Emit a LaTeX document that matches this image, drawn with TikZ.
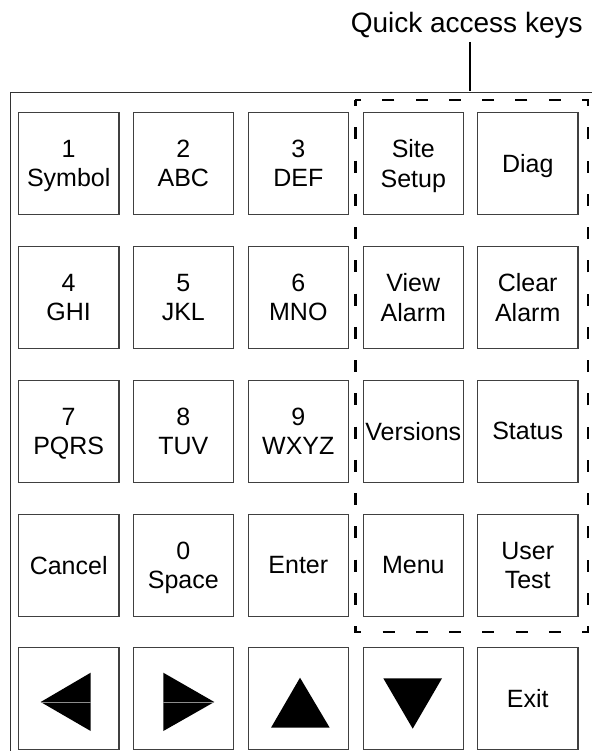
\documentclass[tikz,border=0pt]{standalone}
\usepackage{fontspec}
\setmainfont{Liberation Sans}

\begin{document}
\begin{tikzpicture}
  [x=1pt, y=-1pt,
   key/.style={rectangle, draw=black!75, line width=1.1pt, minimum width=100.5pt,
     minimum height=102pt, inner sep=0pt, align=center,
     font=\fontsize{25}{29.3}\selectfont, text depth=0pt},
   quickbox/.style={line width=2.5pt, dash pattern=on 12pt off 21.25pt, dash phase=6pt},
   arrowtri/.style={fill=black}]
  \useasboundingbox (0,0) rectangle (592,751);
  % panel frame, cut off at the right and bottom
  \draw[black!80, line width=1.4pt] (10.7,751) -- (10.7,92.5) -- (592,92.5);
  % Row 1
  \node[key] (k1)    at (68.7,163.3)  {1\\Symbol};
  \node[key] (k2)    at (183.3,163.3) {2\\ABC};
  \node[key] (k3)    at (298.3,163.3) {3\\DEF};
  \node[key] (site)  at (413.3,163.3) {Site\\Setup};
  \node[key] (diag)  at (527.7,163.3) {Diag};
  % Row 2
  \node[key] (k4)    at (68.7,297.3)  {4\\GHI};
  \node[key] (k5)    at (183.3,297.3) {5\\JKL};
  \node[key] (k6)    at (298.3,297.3) {6\\MNO};
  \node[key] (view)  at (413.3,297.3) {View\\Alarm};
  \node[key] (clear) at (527.7,297.3) {Clear\\Alarm};
  % Row 3
  \node[key] (k7)    at (68.7,431.2)  {7\\PQRS};
  \node[key] (k8)    at (183.3,431.2) {8\\TUV};
  \node[key] (k9)    at (298.3,431.2) {9\\WXYZ};
  \node[key] (vers)  at (413.3,431.2) {Versions};
  \node[key] (stat)  at (527.7,431.2) {Status};
  % Row 4
  \node[key] (cancel) at (68.7,565.1)  {Cancel};
  \node[key] (k0)     at (183.3,565.1) {0\\Space};
  \node[key] (enter)  at (298.3,565.1) {Enter};
  \node[key] (menu)   at (413.3,565.1) {Menu};
  \node[key] (utest)  at (527.7,565.1) {User\\Test};
  % Row 5: cursor keys and exit
  \node[key] (left)  at (68.7,698.8)  {};
  \node[key] (right) at (183.3,698.8) {};
  \node[key] (up)    at (298.3,698.8) {};
  \node[key] (down)  at (413.3,698.8) {};
  \node[key] (exit)  at (527.7,698.8) {Exit};
  \fill[arrowtri] (40.7,702) -- (90.7,672.7) -- (90.7,731) -- cycle;
  \draw[black!45, line width=0.5pt] (40.7,702) -- (90.7,702);
  \fill[arrowtri] (214.3,702) -- (163.3,672.7) -- (163.3,731) -- cycle;
  \draw[black!45, line width=0.5pt] (163.3,702) -- (214.3,702);
  \fill[arrowtri] (300,677.7) -- (271,727.7) -- (329.7,727.7) -- cycle;
  \fill[arrowtri] (383.3,678.3) -- (442,678.3) -- (412.7,728.7) -- cycle;
  % quick access group
  \draw[quickbox] (355.3,100.2) rectangle (588,632.2);
  \node[font=\fontsize{28}{32}\selectfont, anchor=base] (title) at (466.7,32.5) {Quick access keys};
  \coordinate (leadend) at (470,91);
  \draw[line width=2pt] (title.south -| leadend) -- (leadend);
\end{tikzpicture}
\end{document}
